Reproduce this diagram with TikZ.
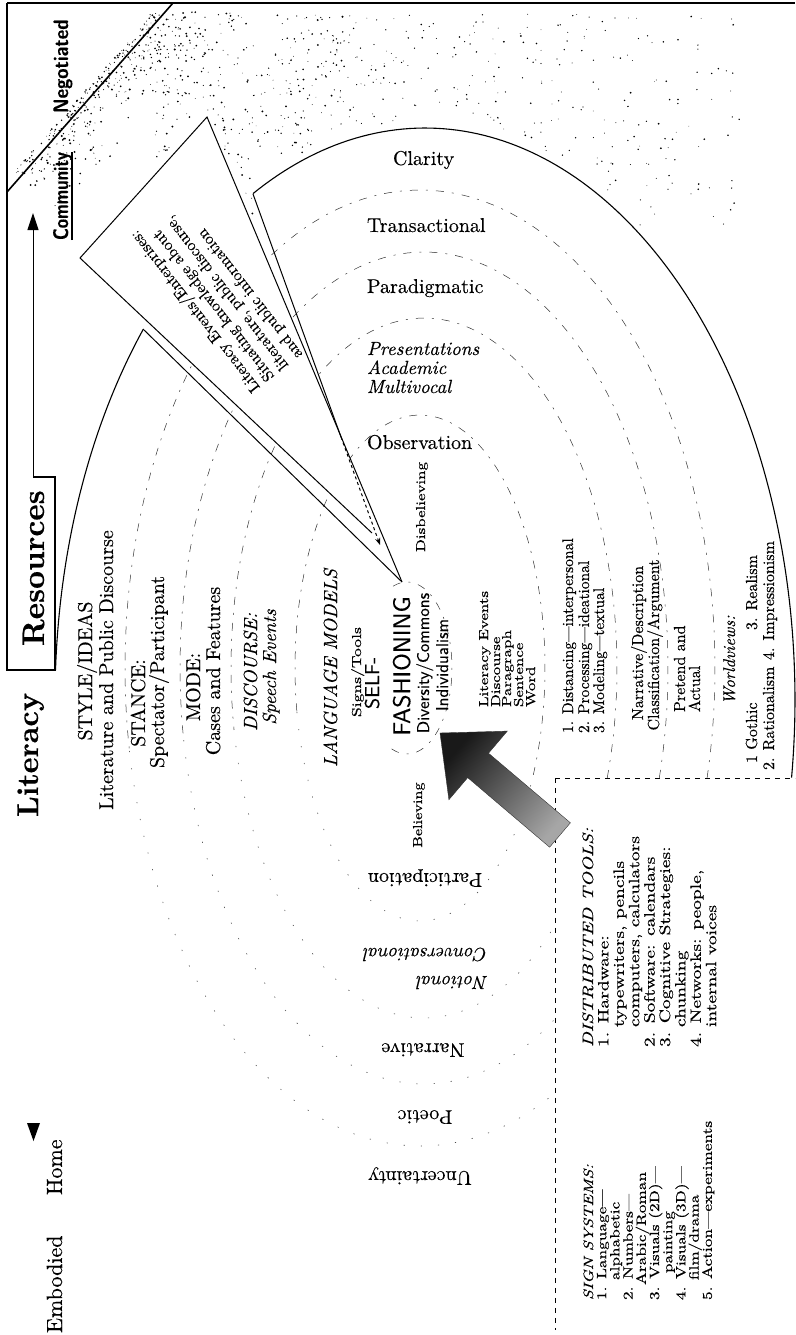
\documentclass[tikz,border=0pt]{standalone}
\usepackage{fontspec}
\setmainfont{lmroman10-regular.otf}[BoldFont=lmroman10-bold.otf,ItalicFont=lmroman10-italic.otf,BoldItalicFont=lmroman10-bolditalic.otf,FakeBold=0.3]
\setsansfont{lmsans10-regular.otf}[BoldFont=lmsans10-bold.otf,ItalicFont=lmsans10-oblique.otf,FakeBold=0.3]
\usepackage{graphicx}
\usetikzlibrary{arrows.meta}
\newcommand{\fs}[2]{\fontsize{#1}{#2}\selectfont}
\newcommand{\sx}[2]{\scalebox{#1}[1]{#2}}

\begin{document}
\begin{tikzpicture}[x=1pt,y=-1pt,
  txt/.style={inner sep=0pt,outer sep=0pt},
  up/.style={txt,rotate=90,anchor=base west},
  upc/.style={txt,rotate=90,anchor=base},
  flip/.style={txt,rotate=180,anchor=center},
  flipw/.style={txt,rotate=180,anchor=base west},
  hz/.style={txt,anchor=base west},
  rim/.style={line width=1.1pt},
  ring/.style={line width=0.5pt,black!80,dash pattern=on 8pt off 8pt on 2pt off 8pt},
  faintring/.style={line width=0.6pt,black!70,dash pattern=on 1.2pt off 16pt},
  rule/.style={line width=0.6pt,dash pattern=on 5pt off 5pt},
  beam/.style={line width=1pt},
]
\useasboundingbox (0,0) rectangle (795,1335);

% ---------- grain in the community corner ----------
\pgfmathsetseed{2718}
\foreach \i in {1,...,360}{%
  \pgfmathsetmacro{\u}{rnd}%
  \pgfmathsetmacro{\v}{68*rnd*rnd-10}%
  \pgfmathsetmacro{\px}{22+143*\u+0.751*\v}%
  \pgfmathsetmacro{\py}{178-163*\u+0.66*\v}%
  \pgfmathsetmacro{\rr}{0.35+0.75*rnd}%
  \fill (\px,\py) circle[radius=\rr];
}
\foreach \i in {1,...,330}{%
  \pgfmathsetmacro{\px}{150+195*rnd}%
  \pgfmathsetmacro{\ym}{\px<207 ? 262-(\px-80)*1.142 : (\px<253 ? 117+(\px-207)*2.38 : 700-572*sqrt(1-((\px-425)/370)*((\px-425)/370)))}%
  \pgfmathsetmacro{\py}{12+(\ym-20)*rnd}%
  \pgfmathsetmacro{\rr}{0.35+0.7*rnd}%
  \fill (\px,\py) circle[radius=\rr];
}
\foreach \i in {1,...,260}{%
  \pgfmathsetmacro{\px}{345+395*rnd}%
  \pgfmathsetmacro{\ym}{min(225,692-572*sqrt(1-((\px-425)/370)*((\px-425)/370)))}%
  \pgfmathsetmacro{\py}{14+(\ym-14)*rnd}%
  \pgfmathsetmacro{\rr}{0.35+0.6*rnd}%
  \fill (\px,\py) circle[radius=\rr];
}

% ---------- concentric dashed rings ----------
\draw[ring] plot[domain=-13.3:190,samples=120] ({420+295*cos(\x)},{668-478*sin(\x)});
\draw[faintring] plot[domain=190:297.2,samples=60] ({420+295*cos(\x)},{668-478*sin(\x)});
\draw[ring] plot[domain=-15.3:190,samples=110] ({424+244*cos(\x)},{668-416*sin(\x)});
\draw[faintring] plot[domain=190:302.5,samples=60] ({424+244*cos(\x)},{668-416*sin(\x)});
\draw[ring] plot[domain=-18.3:190,samples=100] ({424+193*cos(\x)},{668-350*sin(\x)});
\draw[faintring] plot[domain=190:312.8,samples=60] ({424+193*cos(\x)},{668-350*sin(\x)});
\draw[ring] plot[domain=-25:190,samples=90] ({420+125*cos(\x)},{668-253*sin(\x)});
\draw[faintring] plot[domain=190:335,samples=60] ({420+125*cos(\x)},{668-253*sin(\x)});
\draw[ring] plot[domain=-110:110,samples=60] ({407+45*cos(\x)},{668-86*sin(\x)});

% ---------- frame, tab and axis arrows ----------
\draw[line width=1.6pt] (7,3) -- (795,3);
\draw[line width=1.6pt] (7,192) -- (173,3);
\coordinate (tabtop) at (33,477);
\coordinate (commtip) at (33,213);
\draw[rim] (7,3) -- (7,670) -- (55,670) -- (55,477) -- (tabtop);
\draw[line width=1pt,-{Triangle[length=17pt,width=11pt]}] (tabtop) -- (commtip);
\fill (27,1123) -- (40,1123) -- (33.5,1141) -- cycle;

% ---------- outer rim of the field ----------
\draw[rim] plot[domain=-7.8:117.7,samples=120] ({425+370*cos(\x)},{700-572*sin(\x)});
\draw[rim] plot[domain=139.6:177,samples=40] ({425+370*cos(\x)},{700-572*sin(\x)});

% ---------- literacy-events beam ----------
\coordinate (P1) at (80,258);
\coordinate (P2) at (207,117);
\coordinate (Ap) at (402,582);
\coordinate (L1) at (372,533);
\coordinate (B1) at (253,194);
\coordinate (B2) at (143,329);
\coordinate (R1) at (341,437);
\coordinate (R2) at (380,545);
\fill[white] (P1) -- (P2) -- (Ap) -- (L1) -- cycle;
\draw[beam] (L1) -- (P1) -- (P2) -- (Ap);
\draw[beam] (B2) -- (Ap);
\draw[beam] (B1) -- (R1);
\draw[beam,dashed,-{Stealth[length=7pt,width=5pt]}] (R1) -- (R2);
\node[txt,rotate=128,anchor=north west,align=left,font=\fs{16}{18}] (beamtext) at (251,395)
  {Literacy Events/Enterprises:\\Situating knowledge about\\literature, public discourse,\\and public information};

% ---------- separators of the lower right ----------
\coordinate (sepc) at (555,778);
\draw[rule] (sepc) -- (795,778);
\draw[rule] (sepc) -- (555,1330);

% ---------- broad arrow into the centre ----------
\shade[left color=black!90,right color=black!35,shading angle=49.6,draw=black!80,line width=0.4pt]
  (440,733) -- (507.3,731.1) -- (488.5,753.2) -- (570.4,822.8) -- (549.6,847.2)
  -- (467.7,777.6) -- (448.9,799.7) -- cycle;

% ---------- axis labels ----------
\node[up,font=\fs{30}{30}\bfseries] (lit) at (38,817) {Literacy};
\node[up,font=\fs{31}{31}\bfseries] (res) at (44,646) {Resources};
\node[up,font=\fs{21}{21}\sffamily\bfseries] (neg) at (68,113) {\sx{0.88}{Negotiated}};
\node[up,font=\fs{21}{21}\sffamily\bfseries] (com) at (68,240) {\sx{0.8}{Community}};
\draw[line width=2pt] (com.south west) -- (com.south east);
\node[up,font=\fs{22}{22}] (emb) at (62,1333) {Embodied};
\node[up,font=\fs{22}{22}] (home) at (62,1195) {Home};

% ---------- left column ----------
\node[upc,font=\fs{20}{20}] (style) at (92,671) {STYLE/IDEAS};
\node[upc,font=\fs{20}{20}] (litpub) at (113,670) {Literature and Public Discourse};
\node[upc,font=\fs{20}{20}] (stance) at (145,703) {STANCE:};
\node[upc,font=\fs{20}{20}] (spect) at (164,672) {Spectator/Participant};
\node[upc,font=\fs{20}{20}] (mode) at (200,687) {MODE:};
\node[upc,font=\fs{20}{20}] (cases) at (220,671) {Cases and Features};
\node[upc,font=\fs{19}{19}\itshape] (disc) at (257,672) {DISCOURSE:};
\node[upc,font=\fs{19}{19}\itshape] (speech) at (276,667) {Speech Events};
\node[upc,font=\fs{19}{19}\itshape] (langm) at (337,668) {LANGUAGE MODELS};
\node[up,font=\fs{13}{13}] (signs) at (361,717) {\sx{1.35}{Signs/Tools}};
\node[upc,font=\fs{20}{20}\sffamily] (self) at (379,683) {SELF-};
\node[upc,font=\fs{24}{24}\sffamily] (fash) at (410,666) {FASHIONING};
\node[upc,font=\fs{17}{17}\sffamily] (div) at (429,663) {Diversity/Commons};
\node[upc,font=\fs{17}{17}\sffamily] (indiv) at (448,665) {Individualism};
\node[upc,font=\fs{13}{13}] (bel) at (422,815) {\sx{1.25}{Believing}};
\node[upc,font=\fs{13}{13}] (disbel) at (425,507) {\sx{1.3}{Disbelieving}};

% ---------- upper labels ----------
\node[hz,font=\fs{20}{20}] (clar) at (393,165) {Clarity};
\node[hz,font=\fs{20}{20}] (trans) at (367,232) {Transactional};
\node[hz,font=\fs{20}{20}] (parad) at (367,293) {Paradigmatic};
\node[hz,font=\fs{19}{19}\itshape] (pres) at (367,355) {Presentations};
\node[hz,font=\fs{19}{19}\itshape] (acad) at (367,374) {Academic};
\node[hz,font=\fs{19}{19}\itshape] (multi) at (367,393) {Multivocal};
\node[hz,font=\fs{20}{20}] (obs) at (367,449) {Observation};

% ---------- lower labels, upside down ----------
\node[flip,font=\fs{20}{20}] (part) at (425,878) {Participation};
\node[flipw,font=\fs{19}{19}\itshape] (conv) at (488,948) {Conversational};
\node[flipw,font=\fs{19}{19}\itshape] (notion) at (488,976) {Notional};
\node[flip,font=\fs{20}{20}] (narr) at (423,1050) {Narrative};
\node[flip,font=\fs{20}{20}] (poet) at (425,1117) {Poetic};
\node[flip,font=\fs{20}{20}] (unc) at (420,1176) {Uncertainty};

% ---------- right-hand lists ----------
\node[up,font=\fs{13}{13}] (le1) at (488,707) {\sx{1.3}{Literacy Events}};
\node[up,font=\fs{13}{13}] (le2) at (500,707) {\sx{1.3}{Discourse}};
\node[up,font=\fs{13}{13}] (le3) at (511,707) {\sx{1.3}{Paragraph}};
\node[up,font=\fs{13}{13}] (le4) at (523,707) {\sx{1.3}{Sentence}};
\node[up,font=\fs{13}{13}] (le5) at (535,707) {\sx{1.3}{Word}};

\node[up,font=\fs{15.5}{15.5}] (fn1) at (573,733) {1. Distancing—interpersonal};
\node[up,font=\fs{15.5}{15.5}] (fn2) at (589,733) {2. Processing—ideational};
\node[up,font=\fs{15.5}{15.5}] (fn3) at (604,733) {3. Modeling—textual};

\node[upc,font=\fs{16}{16}] (nd) at (643,643) {Narrative/Description};
\node[upc,font=\fs{16}{16}] (ca) at (659,645) {Classification/Argument};

\node[up,font=\fs{16}{16}] (pret) at (685,712) {Pretend and};
\node[up,font=\fs{16}{16}] (act) at (700,712) {Actual};

\node[upc,font=\fs{17}{17}\itshape] (world) at (735,660) {Worldviews:};
\node[up,font=\fs{16}{16}] (goth) at (757,763) {1 Gothic};
\node[up,font=\fs{16}{16}] (real) at (757,630) {3. Realism};
\node[up,font=\fs{16}{16}] (ration) at (774,770) {2. Rationalism};
\node[up,font=\fs{16}{16}] (impr) at (774,660) {4. Impressionism};

% distributed tools
\node[up,font=\fs{15}{15}\itshape] (dt0) at (593,1047) {\sx{1.3}{DISTRIBUTED TOOLS:}};
\node[up,font=\fs{15}{15}] (dt1) at (608.4,1047) {\sx{1.3}{1. Hardware:}};
\node[up,font=\fs{15}{15}] (dt2) at (623.8,1027) {\sx{1.3}{typewriters, pencils}};
\node[up,font=\fs{15}{15}] (dt3) at (639.2,1027) {\sx{1.3}{computers, calculators}};
\node[up,font=\fs{15}{15}] (dt4) at (654.6,1047) {\sx{1.3}{2. Software: calendars}};
\node[up,font=\fs{15}{15}] (dt5) at (670,1047) {\sx{1.3}{3. Cognitive Strategies:}};
\node[up,font=\fs{15}{15}] (dt6) at (685.4,1027) {\sx{1.3}{chunking}};
\node[up,font=\fs{15}{15}] (dt7) at (700.8,1047) {\sx{1.3}{4. Networks: people,}};
\node[up,font=\fs{15}{15}] (dt8) at (716.2,1027) {\sx{1.3}{internal voices}};

% sign systems
\node[up,font=\fs{13.5}{13.5}\itshape] (ss0) at (593,1300) {\sx{1.28}{SIGN SYSTEMS:}};
\node[up,font=\fs{13.5}{13.5}] (ss1) at (606.2,1300) {\sx{1.28}{1. Language—}};
\node[up,font=\fs{13.5}{13.5}] (ss2) at (619.4,1280) {\sx{1.28}{alphabetic}};
\node[up,font=\fs{13.5}{13.5}] (ss3) at (632.6,1300) {\sx{1.28}{2. Numbers—}};
\node[up,font=\fs{13.5}{13.5}] (ss4) at (645.8,1285) {\sx{1.28}{Arabic/Roman}};
\node[up,font=\fs{13.5}{13.5}] (ss5) at (659,1300) {\sx{1.28}{3. Visuals (2D)—}};
\node[up,font=\fs{13.5}{13.5}] (ss6) at (672.2,1273) {\sx{1.28}{painting}};
\node[up,font=\fs{13.5}{13.5}] (ss7) at (685.4,1300) {\sx{1.28}{4. Visuals (3D)—}};
\node[up,font=\fs{13.5}{13.5}] (ss8) at (698.6,1280) {\sx{1.28}{film/drama}};
\node[up,font=\fs{13.5}{13.5}] (ss9) at (711.8,1300) {\sx{1.28}{5. Action—experiments}};

\end{tikzpicture}
\end{document}
